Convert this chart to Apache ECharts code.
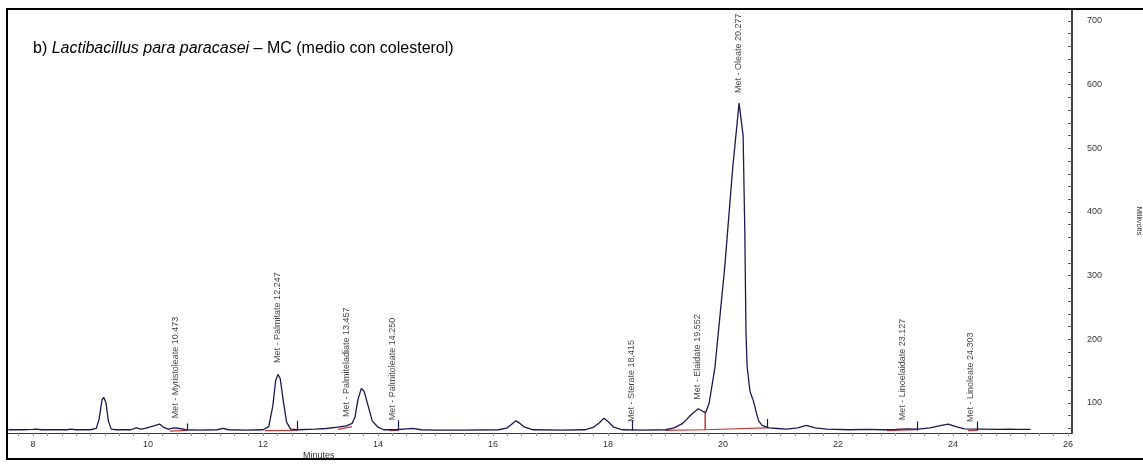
<!DOCTYPE html>
<html>
<head>
<meta charset="utf-8">
<script src="https://cdn.jsdelivr.net/npm/echarts@6/dist/echarts.min.js"></script>
<style>html,body{margin:0;padding:0;background:#fff;}#c{width:1143px;height:464px;}</style>
</head>
<body>
<div id="c"></div>
<script>
// Chromatogram trace: [minutes, millivolts]
var trace = [
  [7.57,58],[7.8,58],[8.0,58.5],[8.05,59],[8.15,58],[8.4,58],[8.6,58],[8.65,59],[8.75,58],
  [9.0,58],[9.1,60],[9.15,75],[9.2,105],[9.23,109],[9.27,100],[9.31,72],[9.36,59],[9.45,58],
  [9.7,58],[9.8,61],[9.88,59],[9.95,60],[10.1,64],[10.2,67],[10.27,62],[10.35,59],[10.45,61],
  [10.55,60],[10.65,58],[10.9,57.5],[11.2,58],[11.3,60],[11.4,58],[11.7,57.5],[12.0,58],
  [12.1,63],[12.17,95],[12.22,135],[12.26,145],[12.3,138],[12.35,105],[12.41,70],[12.48,59],
  [12.6,58],[12.9,59],[13.1,60],[13.3,62],[13.45,64],[13.55,68],[13.6,78],[13.65,105],
  [13.71,123],[13.76,118],[13.83,95],[13.9,72],[14.0,62],[14.1,58],[14.3,58],[14.5,59.5],
  [14.6,60],[14.75,58],[15.0,57.5],[15.5,57.5],[16.1,58],[16.25,61],[16.33,67],[16.4,72],
  [16.47,68],[16.55,62],[16.7,58],[17.2,57.5],[17.6,58],[17.75,62],[17.85,69],[17.93,76],
  [18.0,71],[18.1,62],[18.25,58],[18.6,57.5],[19.0,58],[19.15,61],[19.3,68],[19.45,82],
  [19.57,91],[19.65,87],[19.7,85],[19.76,100],[19.86,156],[20.03,313],[20.17,470],[20.28,571],
  [20.31,568],[20.35,520],[20.38,367],[20.40,210],[20.42,157],[20.47,118],[20.53,103],
  [20.58,85],[20.62,72],[20.68,65],[20.8,61],[20.95,60],[21.1,59],[21.3,61],[21.45,65],
  [21.6,61],[21.8,59],[22.2,58],[22.5,58.5],[22.8,58],[23.0,58.5],[23.2,59.5],[23.4,59],
  [23.6,61],[23.8,65],[23.92,67],[24.05,63],[24.2,59.5],[24.5,59],[24.8,58.5],[25.0,59],
  [25.1,58.5],[25.35,58.5]
];

// Peak identification labels
var peakNames = ['Met - Myristoleate','Met - Palmitate','Met - Palmiteladiate','Met - Palmitoleate',
  'Met - Sterate','Met - Elaidate','Met - Oleate','Met - Linoelaidate','Met - Linoleate'];
var peakTimes = ['10.473','12.247','13.457','14.250','18.415','19.552','20.277','23.127','24.303'];
var peakLabelBase = [76,163,78,73,70,105,587,73,70];

// Peak end markers (minutes, bottom mV, top mV)
var markTimes = [10.68,12.6,14.36,18.43,20.77,23.37,24.42];
var markBottom = [57,57,57,57,60,57,57];
var markTop = [68,72,73,73,75,71,71];

// Integration baselines (each a polyline)
var baselines = [
  [[10.38,56],[10.68,57]],
  [[12.03,56.5],[12.6,57]],
  [[13.3,58.5],[13.55,63]],
  [[14.2,56.5],[14.36,57]],
  [[19.0,57],[19.69,58],[20.75,61]],
  [[22.85,56.5],[23.37,58]],
  [[24.26,56.5],[24.42,57]]
];
var dropLines = [[[19.69,58],[19.69,85]]];

// Axis ticks / labels
var xTickVals = []; for (var t = 7.75; t <= 26.001; t += 0.25) xTickVals.push(+t.toFixed(2));
var xLabelVals = [8,10,12,14,16,18,20,22,24,26];
var yTickVals = []; for (var v = 60; v <= 700; v += 20) yTickVals.push(v);
var yLabelVals = [100,200,300,400,500,600,700];

var chart = echarts.init(document.getElementById('c'), null, {renderer:'canvas'});

var labelData = peakNames.map(function(n,i){
  return {value:[parseFloat(peakTimes[i]), peakLabelBase[i]], name: n + ' ' + peakTimes[i]};
});
var markData = markTimes.map(function(t,i){ return {coords:[[t,markBottom[i]],[t,markTop[i]]]}; });
var baseData = baselines.map(function(b){ return {coords:b}; });
var dropData = dropLines.map(function(b){ return {coords:b}; });

var sans = "'Liberation Sans',Arial,sans-serif";

chart.setOption({
  animation:false,
  backgroundColor:'#fff',
  title:{
    text:'{n|b) }{i|Lactibacillus para paracasei}{n| – MC (medio con colesterol)}',
    left:28, top:36,
    textStyle:{fontWeight:'normal', rich:{
      n:{fontSize:16, fontFamily:sans, fontWeight:'normal', color:'#000'},
      i:{fontSize:16, fontFamily:sans, fontWeight:'normal', fontStyle:'italic', color:'#000'}
    }}
  },
  grid:{left:8, right:71, top:9, bottom:31, containLabel:false, outerBoundsMode:'none'},
  xAxis:{
    type:'value', min:7.565, max:26.07,
    axisLine:{show:true, onZero:false, lineStyle:{color:'#333', width:1}},
    axisTick:{show:true, customValues:xTickVals, length:3, inside:false, lineStyle:{color:'#999'}},
    axisLabel:{customValues:xLabelVals, fontSize:9, color:'#333', margin:7, fontFamily:sans},
    splitLine:{show:false}
  },
  yAxis:{
    type:'value', position:'right', min:52.9, max:718.8,
    axisLine:{show:true, lineStyle:{color:'#000', width:1.5}},
    axisTick:{show:true, customValues:yTickVals, length:4, inside:true, lineStyle:{color:'#555'}},
    axisLabel:{customValues:yLabelVals, fontSize:9, color:'#333', margin:15, fontFamily:sans},
    splitLine:{show:false},
    name:'Millivolts', nameLocation:'middle', nameGap:63, nameRotate:-90,
    nameTextStyle:{fontSize:7.5, color:'#333', fontFamily:sans}
  },
  graphic:[
    {type:'rect', shape:{x:7, y:9, width:1140, height:450}, style:{fill:'none', stroke:'#000', lineWidth:2}, z:100},
    {type:'text', left:303, top:451, style:{text:'Minutes', fontSize:9, fill:'#333', fontFamily:sans}}
  ],
  series:[
    {type:'line', data:trace, symbol:'none', lineStyle:{color:'#1a1a4e', width:1.3}, z:3},
    {type:'lines', coordinateSystem:'cartesian2d', polyline:true, data:baseData, lineStyle:{color:'#c03a3a', width:1.2, opacity:1}, z:2},
    {type:'lines', coordinateSystem:'cartesian2d', polyline:true, data:dropData, lineStyle:{color:'#c03a3a', width:1.5, opacity:1}, z:2},
    {type:'lines', coordinateSystem:'cartesian2d', data:markData, lineStyle:{color:'#1a1a4e', width:1.2, opacity:1}, z:4},
    {type:'scatter', data:labelData, symbolSize:0, z:5,
      label:{show:true, formatter:function(p){return p.name;}, rotate:90, position:'top', distance:0,
        align:'left', verticalAlign:'middle', fontSize:9, color:'#111', fontFamily:sans}}
  ]
});
</script>
</body>
</html>
